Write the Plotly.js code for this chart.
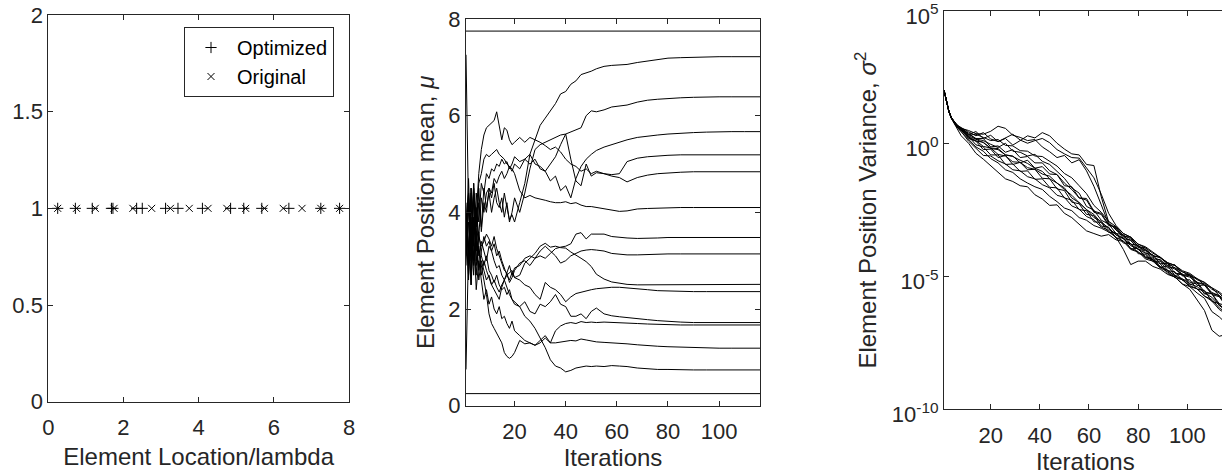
<!DOCTYPE html>
<html>
<head>
<meta charset="utf-8">
<script src="https://cdn.plot.ly/plotly-3.0.1.min.js"></script>
<style>
  html, body { margin: 0; padding: 0; overflow: hidden; background: #ffffff; }
  #chart { width: 1228px; height: 476px; }
</style>
</head>
<body>
<div id="chart"></div>
<script>
// ---------------- Panel 1: element locations ----------------
const optimizedPositions = [0.25, 0.72, 1.17, 1.68, 1.72, 2.35, 2.5, 3.12, 3.45, 4.1, 4.85, 5.2, 5.68, 6.4, 7.25, 7.75];
const originalPositions  = [0.25, 0.75, 1.25, 1.75, 2.25, 2.75, 3.25, 3.75, 4.25, 4.75, 5.25, 5.75, 6.25, 6.75, 7.25, 7.75];
const markerLevel        = [1, 1, 1, 1, 1, 1, 1, 1, 1, 1, 1, 1, 1, 1, 1, 1];

// ---------------- Panel 2: element position mean vs iteration ----------------
const meanIterations = [1,2,3,4,5,6,7,8,9,10,11,12,13,14,15,16,17,18,19,20,22,24,26,28,30,32,34,36,38,40,42,44,46,48,50,52,55,58,61,64,68,72,76,80,85,90,95,100,105,110,116];
const fixedElementMeans = [0.25, 7.75];
const meanU1 = [3.6,4.4,3.2,4.6,3.5,4.2,3.7,4.5,4.1,4.4,4.0,4.3,4.5,4.2,4.0,4.4,4.1,3.85,3.95,3.8, 4.2,4.6,5.2,5.5,5.8,5.95,6.1,6.25,6.45,6.5,6.65,6.72,6.85,6.88,6.92,6.97,7.02,7.04,7.05,7.06,7.1,7.13,7.17,7.19,7.2,7.21,7.22,7.22,7.22,7.22,7.22];
const meanU2 = [3.9,3.3,4.5,3.6,4.1,3.5,4.3,4.0,4.4,4.5,4.3,4.6,4.2,4.1,4.3,3.9,4.2,3.8,4.0,4.3, 4.0,4.4,4.9,5.3,5.4,5.45,5.5,5.55,5.6,5.62,5.66,5.7,5.75,6.0,6.1,6.08,6.12,6.18,6.2,6.22,6.28,6.32,6.34,6.36,6.37,6.38,6.39,6.39,6.39,6.39,6.39];
const meanU3 = [3.4,4.7,3.0,4.3,3.9,4.8,5.3,5.6,5.75,5.8,5.85,5.9,6.08,5.75,5.5,5.75,5.7,5.5,5.4,5.45, 5.55,5.45,5.55,5.5,5.45,5.38,5.3,5.35,5.25,5.1,5.0,4.95,4.85,4.9,4.8,4.85,4.8,4.78,4.8,5.05,5.12,5.15,5.17,5.18,5.19,5.19,5.19,5.19,5.19,5.19,5.19];
const meanU4 = [4.2,2.9,4.4,3.3,4.4,3.8,4.6,4.4,4.8,4.7,4.9,4.85,5.0,4.95,5.1,5.0,5.05,4.9,5.0,5.15, 5.05,5.1,5.2,5.0,4.95,4.85,4.65,4.75,4.45,4.55,4.3,4.7,4.95,5.1,5.2,5.28,5.35,5.4,5.45,5.5,5.55,5.58,5.6,5.62,5.64,5.65,5.66,5.67,5.67,5.67,5.67];
const meanU5 = [7.26,4.0,3.4,4.6,3.2,4.5,3.6,4.2,4.0,4.5,4.4,4.7,4.6,4.75,4.85,4.7,4.8,4.95,4.85,5.0, 4.9,5.1,5.0,5.1,4.9,4.85,5.0,5.15,5.4,5.62,5.1,4.65,4.55,5.0,4.75,4.82,4.8,4.75,4.72,4.63,4.72,4.77,4.8,4.82,4.83,4.84,4.84,4.84,4.84,4.84,4.84];
const meanU6 = [3.5,4.4,3.1,4.5,3.7,4.6,4.8,5.1,5.2,5.15,5.2,5.25,5.3,5.2,5.15,5.1,5.0,4.95,4.9,4.8, 4.45,4.3,4.35,4.3,4.28,4.25,4.22,4.2,4.2,4.22,4.18,4.2,4.15,4.12,4.12,4.1,4.07,4.05,4.02,4.03,4.07,4.08,4.09,4.1,4.1,4.1,4.1,4.1,4.1,4.1,4.1];
const meanL1 = [3.3,4.1,2.8,3.9,3.0,3.5,3.3,3.4,3.55,3.45,3.3,3.5,3.25,3.1,2.95,2.8,2.75,2.9,2.7,2.85, 2.9,3.05,3.1,3.05,3.1,3.05,3.15,3.25,3.28,3.3,3.35,3.55,3.58,3.45,3.55,3.55,3.55,3.5,3.48,3.47,3.46,3.46,3.47,3.48,3.48,3.48,3.48,3.48,3.48,3.48,3.48];
const meanL2 = [2.9,4.3,3.6,2.7,4.0,3.1,3.4,3.2,3.0,3.3,3.2,3.0,2.85,2.9,2.7,2.6,2.75,2.55,2.65,2.8, 2.95,3.0,2.9,3.05,3.2,3.3,3.2,3.1,2.95,3.0,3.1,3.15,3.2,3.22,3.23,3.22,3.2,3.15,3.13,3.12,3.12,3.13,3.13,3.14,3.14,3.14,3.14,3.14,3.14,3.14,3.14];
const meanL3 = [3.7,2.6,4.2,3.0,3.6,2.8,3.2,3.5,3.3,3.4,3.2,3.35,3.1,3.2,3.0,2.85,2.7,2.6,2.75,2.65, 2.7,2.95,3.05,3.15,3.3,3.36,3.28,3.3,3.27,3.26,3.18,3.12,3.05,2.98,2.88,2.72,2.62,2.56,2.53,2.51,2.5,2.5,2.5,2.5,2.51,2.51,2.51,2.51,2.51,2.51,2.51];
const meanL4 = [3.1,3.8,2.5,4.4,2.9,3.3,2.7,3.0,2.8,2.65,2.5,2.4,2.3,2.2,2.45,2.6,2.7,2.75,2.8,2.65, 2.6,2.5,2.45,2.3,2.2,2.55,2.45,2.4,2.3,2.15,2.25,2.32,2.35,2.37,2.4,2.42,2.44,2.45,2.45,2.44,2.42,2.4,2.38,2.37,2.36,2.36,2.36,2.36,2.36,2.36,2.36];
const meanL5 = [4.0,3.2,3.7,2.9,3.4,2.6,3.0,2.8,2.6,2.7,2.5,2.6,2.45,2.35,2.5,2.6,2.45,2.3,2.2,2.1, 2.05,2.15,1.95,1.9,2.1,2.05,2.15,2.3,2.1,2.05,1.85,1.85,1.9,1.8,1.95,2.02,1.9,1.86,1.84,1.82,1.8,1.78,1.76,1.74,1.73,1.72,1.72,1.72,1.72,1.72,1.72];
const meanL6 = [0.75,3.3,2.5,3.6,2.4,3.0,2.6,2.2,2.4,2.1,2.25,2.0,1.9,2.05,1.8,1.85,1.7,1.6,1.75,1.55, 1.45,1.35,1.3,1.25,1.35,1.45,1.3,1.55,1.65,1.7,1.72,1.7,1.74,1.72,1.73,1.72,1.73,1.72,1.72,1.71,1.7,1.69,1.68,1.67,1.67,1.67,1.67,1.67,1.67,1.67,1.67];
const meanL7 = [3.5,2.7,3.9,3.1,3.5,3.2,2.9,2.6,2.3,1.9,1.7,1.6,1.5,1.4,1.3,1.1,1.02,0.98,1.02,1.1, 1.35,1.28,1.3,1.25,1.3,1.4,1.3,1.3,1.32,1.33,1.35,1.34,1.38,1.36,1.34,1.32,1.31,1.3,1.3,1.28,1.26,1.24,1.23,1.22,1.21,1.2,1.2,1.19,1.19,1.19,1.19];
const meanL8 = [3.8,3.0,4.5,3.4,2.7,3.6,3.1,2.9,3.1,2.8,2.7,2.55,2.7,2.5,2.4,2.45,2.3,2.4,2.2,2.15, 2.05,1.85,1.75,1.6,1.4,1.2,0.95,0.82,0.78,0.7,0.73,0.78,0.8,0.82,0.81,0.82,0.81,0.83,0.82,0.81,0.78,0.76,0.75,0.75,0.74,0.74,0.74,0.74,0.74,0.74,0.74];
const meanSeries = [meanU1, meanU2, meanU3, meanU4, meanU5, meanU6, meanL1, meanL2, meanL3, meanL4, meanL5, meanL6, meanL7, meanL8];

// ---------------- Panel 3: element position variance (log10 of value) vs iteration ----------------
const varIterations = [1,2,3,4,5,6,7,8,11,14,17,20,23,26,29,32,35,38,41,44,47,50,53,56,59,62,65,68,71,74,77,80,83,86,89,92,95,98,101,104,107,110,113,116];
const varLog1  = [2.02,1.56,1.22,0.98,0.84,0.74,0.66,0.6, 0.45,0.3,0.42,0.18,0.08,0.2,-0.05,0.12,0.3,0.22,0.42,0.3,0.02,-0.2,-0.38,-0.42,-0.78,-0.82,-2.0,-2.95,-3.25,-3.5,-3.65,-3.9,-4.0,-4.2,-4.3,-4.5,-4.68,-4.82,-4.98,-5.08,-5.32,-5.42,-5.72,-5.9];
const varLog2  = [2.02,1.55,1.21,0.97,0.83,0.73,0.65,0.58, 0.5,0.38,0.36,0.47,0.66,0.58,0.32,0.24,0.12,0.16,-0.12,-0.3,-0.52,-0.44,-0.72,-0.6,-1.02,-1.6,-2.3,-3.02,-3.2,-3.45,-3.58,-3.85,-3.98,-4.28,-4.38,-4.6,-4.72,-4.95,-5.02,-5.22,-5.32,-5.6,-5.72,-6.02];
const varLog3  = [2.02,1.55,1.22,0.99,0.82,0.71,0.63,0.56, 0.35,0.46,0.2,0.32,0.08,0.22,0.36,0.14,0.02,0.12,0.2,0.04,-0.22,-0.38,-0.52,-0.54,-0.92,-1.28,-1.9,-2.62,-3.08,-3.38,-3.52,-3.78,-3.88,-4.08,-4.28,-4.48,-4.58,-4.78,-4.88,-5.08,-5.22,-5.42,-5.58,-5.82];
const varLog4  = [2.02,1.54,1.2,0.95,0.78,0.62,0.45,0.3, 0.02,-0.36,-0.58,-0.82,-1.08,-1.32,-1.42,-1.58,-1.62,-1.92,-2.08,-2.32,-2.3,-2.62,-2.78,-3.02,-3.28,-3.38,-3.48,-3.42,-3.62,-3.68,-3.98,-4.08,-4.28,-4.38,-4.62,-4.78,-4.98,-5.08,-5.28,-5.38,-5.62,-5.78,-6.08,-6.22];
const varLog5  = [2.02,1.55,1.21,0.97,0.8,0.66,0.55,0.45, 0.15,-0.12,-0.28,-0.56,-0.72,-0.98,-1.08,-1.32,-1.48,-1.62,-1.72,-1.98,-2.18,-2.42,-2.52,-2.78,-2.88,-3.08,-3.18,-3.32,-3.52,-3.98,-4.55,-4.42,-4.42,-4.62,-4.72,-4.92,-5.02,-5.28,-5.38,-5.62,-5.82,-6.32,-6.52,-6.78];
const varLog6  = [2.02,1.56,1.22,0.98,0.83,0.72,0.64,0.57, 0.3,0.16,0.04,-0.16,-0.18,-0.42,-0.48,-0.62,-0.74,-0.92,-1.04,-1.32,-1.48,-1.72,-1.94,-2.22,-2.48,-2.78,-2.92,-3.22,-3.38,-3.58,-3.78,-3.98,-4.12,-4.38,-4.52,-4.88,-5.02,-5.28,-5.48,-5.88,-6.28,-7.02,-7.25,-7.18];
const varLog7  = [2.02,1.55,1.22,0.98,0.82,0.72,0.63,0.58, 0.4,0.18,0.12,-0.02,-0.14,0.02,-0.28,-0.32,-0.46,-0.4,-0.66,-0.78,-1.06,-1.3,-1.66,-1.86,-2.36,-2.5,-2.88,-3.02,-3.38,-3.42,-3.78,-3.82,-4.12,-4.18,-4.52,-4.5,-4.88,-4.9,-5.22,-5.2,-5.58,-5.64,-6.02,-6.1];
const varLog8  = [2.02,1.55,1.21,0.97,0.81,0.69,0.6,0.52, 0.2,0.1,-0.22,-0.2,-0.52,-0.44,-0.78,-0.7,-0.98,-0.96,-1.3,-1.32,-1.7,-1.76,-2.2,-2.26,-2.66,-2.7,-3.1,-3.14,-3.56,-3.54,-3.96,-3.94,-4.3,-4.3,-4.66,-4.6,-4.96,-4.9,-5.3,-5.24,-5.66,-5.64,-6.1,-6.2];
const varLog9  = [2.02,1.56,1.23,0.99,0.84,0.73,0.65,0.59, 0.36,0.2,0.2,-0.12,-0.08,-0.32,-0.22,-0.52,-0.48,-0.72,-0.72,-1.02,-1.16,-1.48,-1.72,-2.04,-2.12,-2.58,-2.66,-3.08,-3.12,-3.48,-3.52,-3.88,-3.92,-4.24,-4.26,-4.58,-4.56,-4.94,-4.92,-5.24,-5.26,-5.64,-5.72,-6.14];
const varLog10 = [2.02,1.55,1.22,0.97,0.82,0.7,0.61,0.54, 0.26,0.12,-0.1,-0.16,-0.4,-0.46,-0.68,-0.7,-0.9,-0.96,-1.14,-1.22,-1.48,-1.66,-2.04,-2.22,-2.48,-2.66,-2.98,-3.16,-3.44,-3.56,-3.84,-3.96,-4.24,-4.36,-4.64,-4.76,-4.98,-5.12,-5.38,-5.46,-5.74,-5.92,-6.24,-6.42];
const varLog11 = [2.02,1.56,1.22,0.99,0.84,0.74,0.66,0.6, 0.32,0.36,0.24,0.12,0.16,-0.06,-0.08,-0.26,-0.28,-0.46,-0.48,-0.66,-0.84,-1.12,-1.28,-1.58,-1.88,-2.32,-2.58,-2.92,-3.12,-3.38,-3.52,-3.78,-3.92,-4.12,-4.28,-4.48,-4.58,-4.82,-4.92,-5.12,-5.22,-5.48,-5.62,-5.92];
const varLog12 = [2.02,1.54,1.2,0.96,0.8,0.67,0.56,0.46, 0.1,-0.16,-0.44,-0.46,-0.64,-0.76,-0.98,-1.02,-1.24,-1.32,-1.54,-1.66,-1.94,-2.02,-2.34,-2.46,-2.74,-2.86,-3.14,-3.26,-3.54,-3.66,-3.94,-4.06,-4.34,-4.42,-4.68,-4.82,-5.04,-5.12,-5.34,-5.46,-5.74,-5.86,-6.18,-6.36];
const varLog13 = [2.02,1.55,1.21,0.98,0.83,0.71,0.63,0.56, 0.22,0.1,0.06,-0.18,-0.22,-0.42,-0.46,-0.72,-0.62,-0.92,-0.86,-1.14,-1.16,-1.58,-1.62,-2.04,-2.06,-2.54,-2.62,-3.04,-3.16,-3.58,-3.62,-3.98,-4.02,-4.38,-4.36,-4.68,-4.66,-4.98,-4.96,-5.34,-5.32,-5.68,-5.76,-6.14];
const varLog14 = [2.02,1.55,1.21,0.97,0.81,0.68,0.58,0.5, 0.28,-0.04,-0.12,-0.42,-0.42,-0.78,-0.76,-1.04,-1.02,-1.34,-1.32,-1.64,-1.66,-2.04,-2.12,-2.48,-2.52,-2.94,-2.96,-3.34,-3.36,-3.74,-3.76,-4.14,-4.16,-4.44,-4.42,-4.78,-4.82,-5.14,-5.12,-5.48,-5.52,-5.94,-6.02,-6.44];
const varSeriesLog10 = [varLog1, varLog2, varLog3, varLog4, varLog5, varLog6, varLog7, varLog8, varLog9, varLog10, varLog11, varLog12, varLog13, varLog14];

// tick labels
const p1XTicks = [0, 2, 4, 6, 8];
const p1YTicks = [0, 0.5, 1, 1.5, 2];
const iterTicks = [20, 40, 60, 80, 100];
const meanTicks = [0, 2, 4, 6, 8];
const varTickVals = [1e-10, 1e-5, 1, 1e5];
const varTickText = ['10<sup>-10</sup>', '10<sup>-5</sup>', '10<sup>0</sup>', '10<sup>5</sup>'];

// ---------------- build figure ----------------
const FONT = 'Liberation Sans, Arial, Helvetica, sans-serif';
const INK = '#262626';
const traces = [];

traces.push({
  x: optimizedPositions, y: markerLevel, xaxis: 'x', yaxis: 'y',
  type: 'scatter', mode: 'markers', name: 'Optimized',
  marker: { symbol: 'cross-thin', size: 8, color: '#000', line: { width: 1, color: '#000' } }
});
traces.push({
  x: originalPositions, y: markerLevel, xaxis: 'x', yaxis: 'y',
  type: 'scatter', mode: 'markers', name: 'Original',
  marker: { symbol: 'x-thin', size: 7, color: '#000', line: { width: 1, color: '#000' } }
});

const iterSpan = [meanIterations[0], meanIterations[meanIterations.length - 1]];
fixedElementMeans.forEach(v => {
  traces.push({
    x: iterSpan, y: [v, v], xaxis: 'x2', yaxis: 'y2', type: 'scatter', mode: 'lines',
    line: { color: '#000', width: 1 }, showlegend: false, hoverinfo: 'skip'
  });
});
meanSeries.forEach(s => {
  traces.push({
    x: meanIterations, y: s, xaxis: 'x2', yaxis: 'y2', type: 'scatter', mode: 'lines',
    line: { color: '#000', width: 1 }, showlegend: false, hoverinfo: 'skip'
  });
});
varSeriesLog10.forEach(s => {
  traces.push({
    x: varIterations, y: s.map(v => Math.pow(10, v)), xaxis: 'x3', yaxis: 'y3', type: 'scatter', mode: 'lines',
    line: { color: '#000', width: 1 }, showlegend: false, hoverinfo: 'skip'
  });
});

const W = 1228, H = 476;
const dx = (a, b) => [a / W, b / W];
const dy = (top, bottom) => [1 - bottom / H, 1 - top / H];

const axisBase = {
  showline: true, linecolor: INK, linewidth: 1, mirror: 'ticks',
  ticks: 'inside', ticklen: 5, tickwidth: 1, tickcolor: INK,
  showgrid: false, zeroline: false, fixedrange: true,
  ticklabeloverflow: 'allow',
  tickfont: { family: FONT, size: 22, color: INK }
};
const titleFont = { family: FONT, size: 24, color: INK };

const layout = {
  width: W, height: H,
  margin: { l: 0, r: 0, t: 0, b: 0 },
  paper_bgcolor: '#ffffff', plot_bgcolor: '#ffffff',
  font: { family: FONT, color: INK },
  showlegend: true,
  legend: {
    x: 334 / W, xanchor: 'right', y: 1 - 27 / H, yanchor: 'top',
    bordercolor: INK, borderwidth: 1, bgcolor: '#ffffff',
    itemwidth: 42,
    font: { family: FONT, size: 20, color: '#000' }
  },
  xaxis: Object.assign({}, axisBase, {
    domain: dx(48.3, 349), range: [0, 8], tickvals: p1XTicks, anchor: 'y',
    ticklabelstandoff: 6,
    title: { text: 'Element Location/lambda', font: titleFont, standoff: 9 }
  }),
  yaxis: Object.assign({}, axisBase, {
    domain: dy(15, 401.7), range: [0, 2], tickvals: p1YTicks, anchor: 'x'
  }),
  xaxis2: Object.assign({}, axisBase, {
    domain: dx(466, 760), range: [1, 116], tickvals: iterTicks, anchor: 'y2',
    ticklabelstandoff: 6,
    title: { text: 'Iterations', font: titleFont, standoff: 6 }
  }),
  yaxis2: Object.assign({}, axisBase, {
    domain: dy(19, 405.7), range: [0, 8], tickvals: meanTicks, anchor: 'x2',
    title: { text: 'Element Position mean, <i>μ</i>', font: titleFont, standoff: 6 }
  }),
  xaxis3: Object.assign({}, axisBase, {
    domain: dx(944, 1226.6), range: [1, 116], tickvals: iterTicks, anchor: 'y3',
    ticklabelstandoff: 6,
    title: { text: 'Iterations', font: titleFont, standoff: 3 }
  }),
  yaxis3: Object.assign({}, axisBase, {
    type: 'log', domain: dy(11, 409.3), range: [-10.00001, 5.00001],
    tickvals: varTickVals, ticktext: varTickText, anchor: 'x3',
    ticklabelshift: 5,
    title: { text: 'Element Position Variance, <i>σ</i><sup>2</sup>', font: titleFont, standoff: 8 }
  })
};

Plotly.newPlot('chart', traces, layout, { displayModeBar: false, staticPlot: true });
</script>
</body>
</html>
